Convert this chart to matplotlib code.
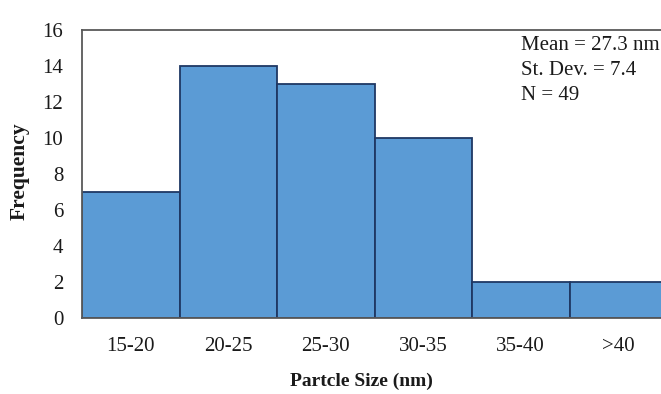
import matplotlib
matplotlib.use("Agg")
import matplotlib.pyplot as plt

categories = ["15-20", "20-25", "25-30", "30-35", "35-40", ">40"]
frequency = [7, 14, 13, 10, 2, 2]
y_ticks = [0, 2, 4, 6, 8, 10, 12, 14, 16]
stats_lines = ["Mean = 27.3 nm", "St. Dev. = 7.4", "N = 49"]

plt.rcParams["font.family"] = ["Liberation Serif", "DejaVu Serif"]

W, H = 661, 394
fig = plt.figure(figsize=(W / 100, H / 100), dpi=100)
# plot area runs slightly past the right edge of the canvas
ax = fig.add_axes([82 / W, 1 - 318 / H, (667 - 82) / W, (318 - 30) / H])

x = list(range(len(categories)))
ax.bar(x, frequency, width=1.0, color="#5B9BD5", edgecolor="#1F3864",
       linewidth=1.3, zorder=2)

ax.set_xlim(-0.5, len(categories) - 0.5)
ax.set_ylim(0, 16)
ax.set_yticks(y_ticks)
ax.set_xticks(x)
ax.set_xticklabels(categories)
ax.tick_params(axis="both", length=0, labelsize=15, colors="#1a1a1a")
ax.tick_params(axis="x", pad=14)
ax.tick_params(axis="y", pad=13.5)

for side in ["left", "top", "bottom", "right"]:
    ax.spines[side].set_color("#595959")
    ax.spines[side].set_linewidth(1.3)

fig.text(20 / W, 1 - 171 / H, "Frequency", rotation=90, fontsize=15.5,
         fontweight="bold", ha="center", va="center", color="#1a1a1a")
fig.text(361 / W, 1 - 381 / H, "Partcle Size (nm)", fontsize=14,
         fontweight="bold", ha="center", va="center", color="#1a1a1a")

for i, line in enumerate(stats_lines):
    fig.text(521 / W, 1 - (46 + 24.5 * i) / H, line, fontsize=15,
             ha="left", va="center", color="#1a1a1a")

fig.savefig("out.png", dpi=100)
